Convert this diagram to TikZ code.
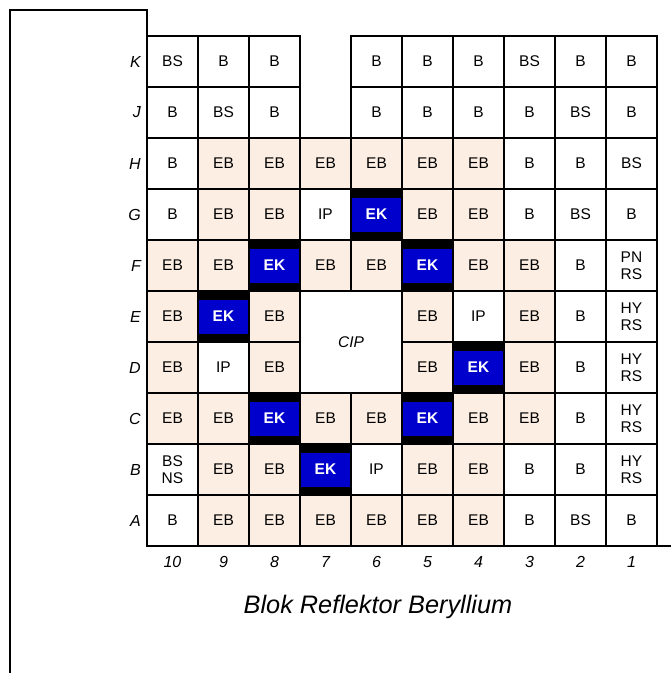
\documentclass[tikz,border=0pt]{standalone}
\usepackage{fontspec}
\setmainfont{Liberation Sans}
\usetikzlibrary{positioning}
\definecolor{ebPeach}{HTML}{FDEEE3}
\definecolor{ekBlue}{HTML}{0000CC}
\tikzset{
  cellbox/.style={draw=black, line width=1.3pt, minimum width=51pt, minimum height=51pt, inner sep=0pt, align=center, font=\fontsize{15.5}{17}\selectfont},
  bcell/.style={cellbox, fill=white},
  ebcell/.style={cellbox, fill=ebPeach},
  ekcell/.style={cellbox, fill=ekBlue, text=white, font=\fontsize{15.5}{17}\selectfont\bfseries,
    path picture={\fill[black] (path picture bounding box.north west) rectangle ([yshift=-8.5pt]path picture bounding box.north east);
                  \fill[black] (path picture bounding box.south west) rectangle ([yshift=8.5pt]path picture bounding box.south east);}},
  rowlbl/.style={anchor=east, inner sep=0pt, font=\fontsize{16}{18}\selectfont\itshape},
  collbl/.style={inner sep=0pt, font=\fontsize{16}{18}\selectfont\itshape},
  frameline/.style={line width=1.3pt}
}
% #1 row letter, #2 column number, #3 row slot (0 = K), #4 text, #5 kind (0 B, 1 EB, 2 EK, 3 none)
\newcommand{\rcell}[5]{%
\ifcase#5
 \node[bcell] (#1#2) at ({147+(10.5-#2)*51},{36+(#3+0.5)*51}) {#4};%
\or
 \node[ebcell] (#1#2) at ({147+(10.5-#2)*51},{36+(#3+0.5)*51}) {#4};%
\or
 \node[ekcell] (#1#2) at ({147+(10.5-#2)*51},{36+(#3+0.5)*51}) {#4};%
\fi}

\begin{document}
\begin{tikzpicture}[x=1pt, y=-1pt]
\useasboundingbox (0,0) rectangle (671,673);
% frame
\draw[frameline] (147,36) -- (147,10) -- (10,10) -- (10,673);
\draw[frameline] (657,546) -- (671,546);
% core grid
\foreach \t/\k [count=\i, evaluate=\i as \c using int(11-\i)] in {BS/0,B/0,B/0,-/3,B/0,B/0,B/0,BS/0,B/0,B/0}
  \rcell{K}{\c}{0}{\t}{\k};
\foreach \t/\k [count=\i, evaluate=\i as \c using int(11-\i)] in {B/0,BS/0,B/0,-/3,B/0,B/0,B/0,B/0,BS/0,B/0}
  \rcell{J}{\c}{1}{\t}{\k};
\foreach \t/\k [count=\i, evaluate=\i as \c using int(11-\i)] in {B/0,EB/1,EB/1,EB/1,EB/1,EB/1,EB/1,B/0,B/0,BS/0}
  \rcell{H}{\c}{2}{\t}{\k};
\foreach \t/\k [count=\i, evaluate=\i as \c using int(11-\i)] in {B/0,EB/1,EB/1,IP/0,EK/2,EB/1,EB/1,B/0,BS/0,B/0}
  \rcell{G}{\c}{3}{\t}{\k};
\foreach \t/\k [count=\i, evaluate=\i as \c using int(11-\i)] in {EB/1,EB/1,EK/2,EB/1,EB/1,EK/2,EB/1,EB/1,B/0,{PN\\RS}/0}
  \rcell{F}{\c}{4}{\t}{\k};
\foreach \t/\k [count=\i, evaluate=\i as \c using int(11-\i)] in {EB/1,EK/2,EB/1,-/3,-/3,EB/1,IP/0,EB/1,B/0,{HY\\RS}/0}
  \rcell{E}{\c}{5}{\t}{\k};
\foreach \t/\k [count=\i, evaluate=\i as \c using int(11-\i)] in {EB/1,IP/0,EB/1,-/3,-/3,EB/1,EK/2,EB/1,B/0,{HY\\RS}/0}
  \rcell{D}{\c}{6}{\t}{\k};
\foreach \t/\k [count=\i, evaluate=\i as \c using int(11-\i)] in {EB/1,EB/1,EK/2,EB/1,EB/1,EK/2,EB/1,EB/1,B/0,{HY\\RS}/0}
  \rcell{C}{\c}{7}{\t}{\k};
\foreach \t/\k [count=\i, evaluate=\i as \c using int(11-\i)] in {{BS\\NS}/0,EB/1,EB/1,EK/2,IP/0,EB/1,EB/1,B/0,B/0,{HY\\RS}/0}
  \rcell{B}{\c}{8}{\t}{\k};
\foreach \t/\k [count=\i, evaluate=\i as \c using int(11-\i)] in {B/0,EB/1,EB/1,EB/1,EB/1,EB/1,EB/1,B/0,BS/0,B/0}
  \rcell{A}{\c}{9}{\t}{\k};
% central irradiation position
\node[bcell, minimum width=102pt, minimum height=102pt, font=\fontsize{15.5}{17}\selectfont\itshape] (cip) at (351,342) {CIP};
% labels
\foreach \l [count=\r from 0] in {K,J,H,G,F,E,D,C,B,A}
  \node[rowlbl] (row\l) at (141,{36+(\r+0.5)*51}) {\l};
\foreach \c [count=\i from 0] in {10,9,8,7,6,5,4,3,2,1}
  \node[collbl] (col\c) at ({147+(\i+0.5)*51},562) {\c};
\node[font=\fontsize{25.3}{29}\selectfont\itshape] (title) at (378,607) {Blok Reflektor Beryllium};
\end{tikzpicture}
\end{document}
